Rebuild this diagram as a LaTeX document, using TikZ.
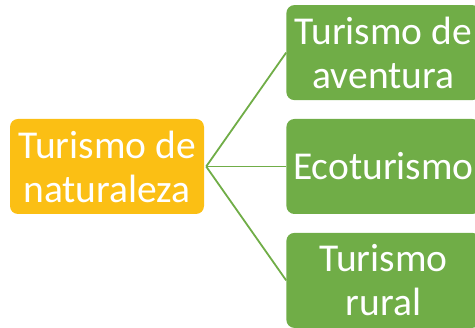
\documentclass[tikz,border=0pt]{standalone}
\usepackage{fontspec}
\setmainfont{Carlito}
\usetikzlibrary{positioning}
\definecolor{boxorange}{HTML}{FBBF14}
\definecolor{boxgreen}{HTML}{70AD47}

\begin{document}
\begin{tikzpicture}[
    x=1pt, y=1pt,
    topic/.style={rectangle, rounded corners=8pt, fill=boxorange, text=white,
        minimum width=194pt, minimum height=95pt, inner sep=0pt, align=center,
        font=\fontsize{39.5}{44}\selectfont},
    kind/.style={topic, fill=boxgreen},
    link/.style={draw=boxgreen, line width=1.8pt},
    ]
    \useasboundingbox (0,0) rectangle (475,328);
    \begin{scope}
        \clip (0,0) rectangle (475,328);

        \node (naturaleza) [topic] at (107,161.5) {Turismo de\\naturaleza};
        \node (eco) [kind, right=82pt of naturaleza] {Ecoturismo};
        \node (aventura) [kind, above=18.5pt of eco] {Turismo de\\aventura};
        \node (rural) [kind, below=18.5pt of eco] {Turismo\\rural};

        \foreach \k in {aventura, eco, rural} {
            \draw [link] ([xshift=2pt]naturaleza.east) -- (\k.west);
        }
    \end{scope}
\end{tikzpicture}
\end{document}
